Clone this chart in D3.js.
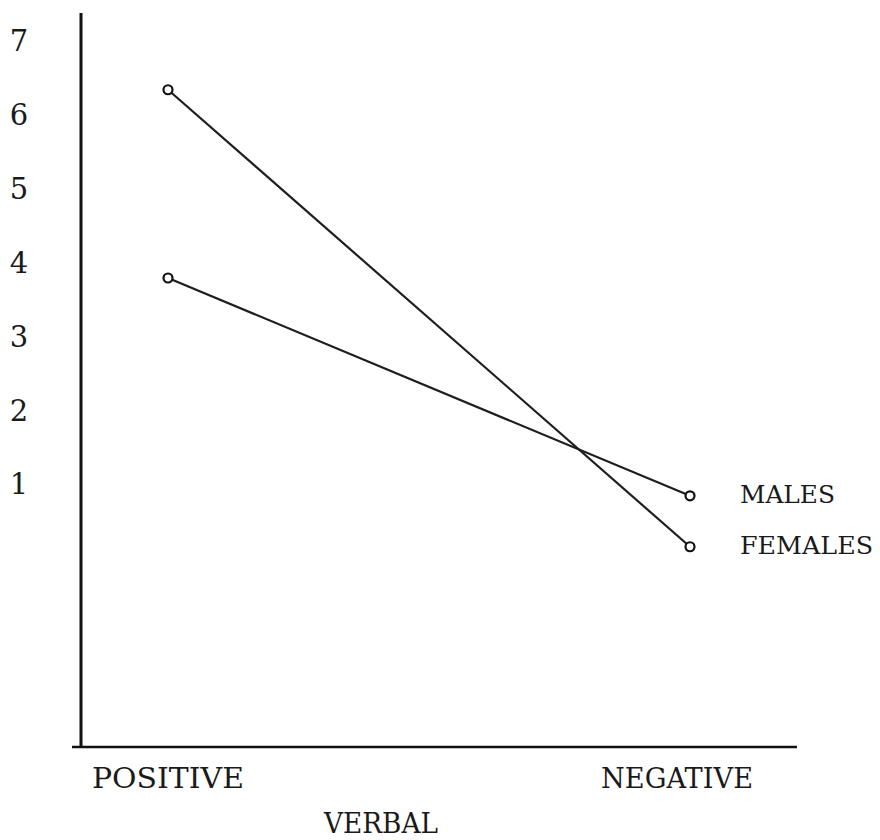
<!DOCTYPE html>
<html>
<head>
<meta charset="utf-8">
<script src="https://cdn.jsdelivr.net/npm/d3@7"></script>
<style>
  body { margin: 0; background: #fff; }
  svg text { font-family: "DejaVu Serif", "Liberation Serif", serif; fill: #1a1a1a; }
</style>
</head>
<body>
<svg id="chart" width="880" height="840"></svg>
<script>
// Datos
const categorias = ["POSITIVE", "NEGATIVE"];
const series = ["MALES", "FEMALES"];
const valoresMales = [3.79, 0.84];
const valoresFemales = [6.34, 0.15];
const ticksY = [1, 2, 3, 4, 5, 6, 7];
const tituloX = "VERBAL";

const svg = d3.select("#chart");
const paso = 19; // ancho de cada carácter (máquina de escribir)

// Escalas
const x = d3.scalePoint()
    .domain(categorias)
    .range([168, 690]);

const y = d3.scaleLinear()
    .domain([1, 7])
    .range([484, 41]);

// Ejes dibujados a mano
svg.append("line")
    .attr("x1", 81).attr("x2", 81)
    .attr("y1", 13).attr("y2", 747)
    .attr("stroke", "#111")
    .attr("stroke-width", 3);

svg.append("line")
    .attr("x1", 72).attr("x2", 797)
    .attr("y1", 747).attr("y2", 747)
    .attr("stroke", "#111")
    .attr("stroke-width", 2.5);

// Etiquetas del eje Y
svg.append("g")
    .selectAll("text")
    .data(ticksY)
    .join("text")
    .attr("x", 19)
    .attr("y", d => y(d))
    .attr("dy", "0.36em")
    .attr("text-anchor", "middle")
    .style("font-size", "29px")
    .text(d => d);

// Etiquetas de categoría
svg.append("g")
    .selectAll("text")
    .data(categorias)
    .join("text")
    .attr("x", (d, i) => x(d) + (i === 0 ? 0 : -13))
    .attr("y", 778)
    .attr("dy", "0.36em")
    .attr("text-anchor", "middle")
    .attr("textLength", d => d.length * paso)
    .attr("lengthAdjust", "spacingAndGlyphs")
    .style("font-size", "27px")
    .text(d => d);

svg.append("text")
    .attr("x", 381)
    .attr("y", 823)
    .attr("dy", "0.36em")
    .attr("text-anchor", "middle")
    .attr("textLength", tituloX.length * paso)
    .attr("lengthAdjust", "spacingAndGlyphs")
    .style("font-size", "27px")
    .text(tituloX);

// Líneas
const datos = [
    { nombre: series[0], valores: valoresMales },
    { nombre: series[1], valores: valoresFemales }
];

const linea = d3.line()
    .x((d, i) => x(categorias[i]))
    .y(d => y(d));

datos.forEach(s => {
    svg.append("path")
        .datum(s.valores)
        .attr("fill", "none")
        .attr("stroke", "#1e1e1e")
        .attr("stroke-width", 2.2)
        .attr("d", linea);

    svg.append("g")
        .selectAll("circle")
        .data(s.valores)
        .join("circle")
        .attr("cx", (d, i) => x(categorias[i]))
        .attr("cy", d => y(d))
        .attr("r", 4.5)
        .attr("fill", "#fff")
        .attr("stroke", "#111")
        .attr("stroke-width", 2.2);

    // Etiqueta al final de la línea
    const ultimo = s.valores[s.valores.length - 1];
    svg.append("text")
        .attr("x", x(categorias[categorias.length - 1]) + 50)
        .attr("y", y(ultimo) - 2)
        .attr("dy", "0.36em")
        .attr("textLength", s.nombre.length * paso)
        .attr("lengthAdjust", "spacingAndGlyphs")
        .style("font-size", "25px")
        .text(s.nombre);
});
</script>
</body>
</html>
